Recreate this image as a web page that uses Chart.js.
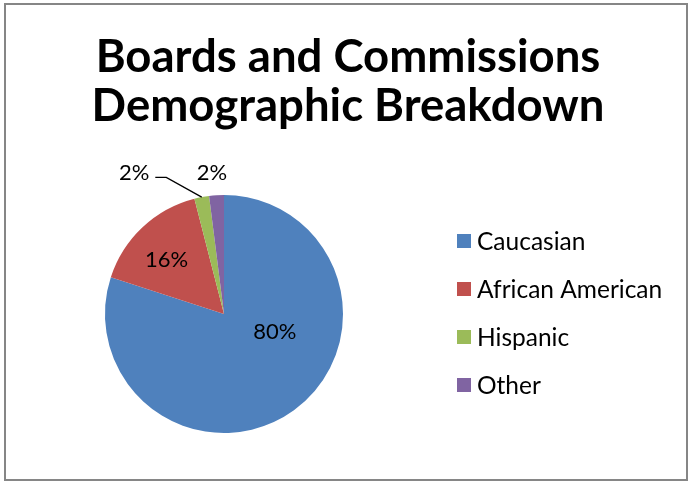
<!DOCTYPE html>
<html>
<head>
<meta charset="utf-8">
<title>Boards and Commissions Demographic Breakdown</title>
<script src="https://cdn.jsdelivr.net/npm/chart.js@4.4.1/dist/chart.umd.min.js"></script>
<style>
  html, body { margin: 0; padding: 0; background: #fff; }
  canvas { display: block; }
</style>
</head>
<body>
<canvas id="demoChart" width="691" height="483"></canvas>
<script>
'use strict';

const titleLines = ['Boards and Commissions', 'Demographic Breakdown'];
const groups = ['Caucasian', 'African American', 'Hispanic', 'Other'];
const shares = [80, 16, 2, 2];
const sliceColors = ['#4F81BD', '#C0504D', '#9BBB59', '#8064A2'];

// where each percent label sits: angle clockwise from 12 o'clock, distance as fraction of radius
const labelSpots = [
    {angle: 108, dist: 0.45},
    {angle: 314, dist: 0.67},
    {angle: 327.6, dist: 1.41, leader: true},
    {angle: 355.2, dist: 1.2}
];

const ctx = document.getElementById('demoChart').getContext('2d');

// border, title, labels and legend drawn by hand (Excel look)
const excelDecor = {
    id: 'excelDecor',
    beforeDraw(chart) {
        const c = chart.ctx;
        c.save();
        c.fillStyle = '#fff';
        c.fillRect(0, 0, chart.width, chart.height);
        c.restore();
    },
    afterDraw(chart) {
        const c = chart.ctx;
        c.save();

        // outer frame
        c.strokeStyle = '#868686';
        c.lineWidth = 2;
        c.strokeRect(5, 4, 682, 476);

        // title
        c.fillStyle = '#000';
        c.font = 'bold 45.5px Lato';
        c.textAlign = 'center';
        c.textBaseline = 'alphabetic';
        c.fillText(titleLines[0], 348, 72);
        c.fillText(titleLines[1], 348, 121);

        // percent labels
        const meta = chart.getDatasetMeta(0);
        const total = shares.reduce((a, b) => a + b, 0);
        c.font = '22px Lato';
        c.textBaseline = 'middle';
        meta.data.forEach((arc, i) => {
            const spot = labelSpots[i];
            const rad = spot.angle * Math.PI / 180;
            const lx = arc.x + Math.sin(rad) * arc.outerRadius * spot.dist;
            const ly = arc.y - Math.cos(rad) * arc.outerRadius * spot.dist;
            const txt = Math.round(shares[i] / total * 100) + '%';
            c.fillStyle = '#000';
            c.fillText(txt, lx, ly + 1);

            if (spot.leader) {
                // leader line from the label to the middle of the slice edge
                const mid = (arc.startAngle + arc.endAngle) / 2;
                const ex = arc.x + Math.cos(mid) * arc.outerRadius;
                const ey = arc.y + Math.sin(mid) * arc.outerRadius;
                const w = c.measureText(txt).width;
                const sx = lx + w / 2 + 6;
                const sy = ly + 5;
                c.strokeStyle = '#000';
                c.lineWidth = 1.3;
                c.beginPath();
                c.moveTo(sx, sy);
                c.lineTo(sx + 11, sy);
                c.lineTo(ex, ey);
                c.stroke();
            }
        });

        // legend
        c.font = '24.5px Lato';
        c.textAlign = 'left';
        groups.forEach((name, i) => {
            const rowY = 241 + i * 48;
            c.fillStyle = sliceColors[i];
            c.fillRect(457, rowY - 7, 14, 14);
            c.fillStyle = '#000';
            c.fillText(name, 477, rowY + 1);
        });

        c.restore();
    }
};

const demoChart = new Chart(ctx, {
    type: 'pie',
    data: {
        labels: groups,
        datasets: [{
            data: shares,
            backgroundColor: sliceColors,
            borderWidth: 0
        }]
    },
    options: {
        responsive: false,
        animation: false,
        events: [],
        layout: {
            padding: {left: 105, right: 348, top: 195, bottom: 50}
        },
        plugins: {
            legend: {display: false},
            title: {display: false},
            tooltip: {enabled: false}
        }
    },
    plugins: [excelDecor]
});
</script>
</body>
</html>
